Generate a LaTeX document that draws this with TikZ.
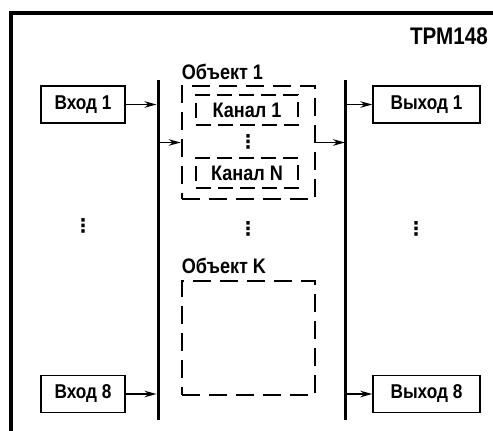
\documentclass[tikz,border=0pt]{standalone}
\usepackage{fontspec}
\setmainfont{Liberation Sans}[FakeStretch=0.86]
\newfontfamily\symfont{DejaVu Sans}
\usepackage{tikz}
\usetikzlibrary{arrows.meta,positioning,calc}

\begin{document}
\begin{tikzpicture}[
  x=1pt, y=-1pt,
  iobox/.style={rectangle, draw, line width=1.4pt, minimum width=84pt, minimum height=37pt, inner sep=0pt, font=\bfseries\fontsize{20}{20}\selectfont},
  outbox/.style={iobox, minimum width=107pt},
  objbox/.style={rectangle, draw, line width=2.6pt, dash pattern=on 18pt off 9pt, minimum width=133pt, inner sep=0pt},
  chanbox/.style={rectangle, draw, line width=2.2pt, dash pattern=on 15pt off 7pt, minimum width=102pt, minimum height=30pt, inner sep=0pt, font=\bfseries\fontsize{21}{21}\selectfont},
  lbl/.style={inner sep=0pt, anchor=south west, font=\bfseries\fontsize{21}{21}\selectfont},
  bus/.style={line width=3pt},
  arrow/.style={-{Stealth[length=12pt, width=6.5pt]}, line width=1.6pt, shorten >=1.5pt},
  dots/.style={inner sep=0pt, font=\symfont\bfseries\fontsize{19}{19}\selectfont}
]
\useasboundingbox (0,0) rectangle (493,431);
% device frame
\coordinate (fbot) at (10.5,433);
\coordinate (fcorner) at (10.5,13);
\coordinate (fright) at (495,13);
\draw[line width=4pt] (fbot) -- (fcorner) -- (fright);
\node[anchor=east, inner sep=0pt, font=\bfseries\fontsize{24}{24}\selectfont] (title) at (488,36.5) {ТРМ148};

% buses
\coordinate (lbtop) at (158,80);
\coordinate (lbbot) at (158,420);
\coordinate (rbtop) at (345,80);
\coordinate (rbbot) at (345,420);
\draw[bus] (lbtop) -- (lbbot);
\draw[bus] (rbtop) -- (rbbot);

% inputs and outputs
\node[iobox] (in1) at (83,104.5) {Вход 1};
\node[iobox] (in8) at (83,394) {Вход 8};
\node[outbox] (out1) at (426.5,104.5) {Выход 1};
\node[outbox] (out8) at (426.5,394) {Выход 8};
\node[dots] (indots) at (83,226) {⋮};
\node[dots] (outdots) at (416,229) {⋮};

% objects
\node[objbox, minimum height=113pt] (obj1) at (248.5,142.5) {};
\node[lbl] (obj1lbl) at ($(obj1.north west)+(1,-5)$) {Объект 1};
\node[chanbox] (chan1) at (247,110) {Канал 1};
\node[chanbox] (chanN) at (247,173) {Канал N};
\node[dots] (chandots) at (248,142) {⋮};
\node[dots] (objdots) at (248,229) {⋮};
\node[objbox, minimum height=114pt] (objK) at (248.5,338) {};
\node[lbl] (objKlbl) at ($(objK.north west)+(1,-6)$) {Объект K};

% connections
\draw[arrow] (in1) -- (in1 -| lbtop);
\draw[arrow] (in8) -- (in8 -| lbtop);
\draw[arrow, shorten >=0pt] (lbtop |- obj1.west) -- (obj1.west);
\draw[arrow, shorten >=0pt] (obj1.east) -- (obj1.east -| rbtop);
\draw[arrow, shorten >=0pt] (rbtop |- out1.west) -- (out1.west);
\draw[arrow, shorten >=0pt] (rbtop |- out8.west) -- (out8.west);
\end{tikzpicture}
\end{document}
